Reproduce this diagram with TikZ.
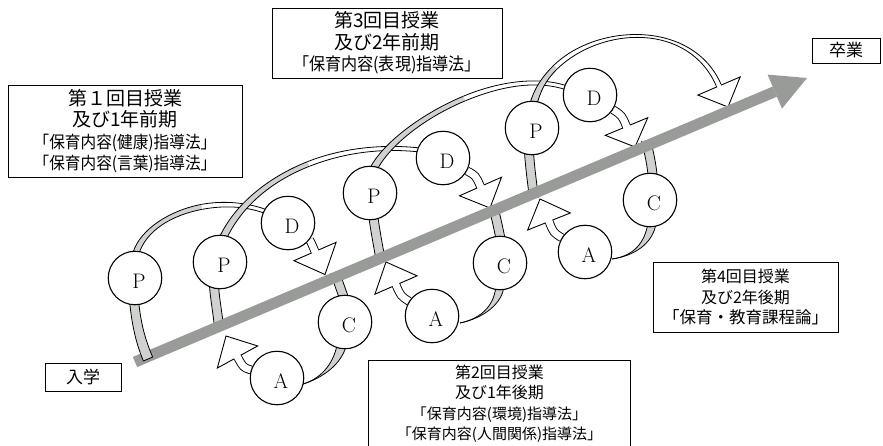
\documentclass[tikz,border=0pt]{standalone}
\usepackage{fontspec}
\newfontfamily\jp{Noto Sans CJK JP}
\newfontfamily\jpc[FakeStretch=0.92]{Noto Sans CJK JP}
\usetikzlibrary{calc}
\definecolor{bandgray}{RGB}{208,210,208}
\definecolor{axisgray}{RGB}{153,155,153}
\pgfdeclarelayer{ribs}\pgfdeclarelayer{axl}\pgfdeclarelayer{front}
\pgfsetlayers{ribs,axl,front,main}
% ribbon along a cubic Bezier: p0 c1 c2 p3, half-width at start/end, fill
\newcommand\rib[7]{%
 \path (#1) coordinate (rp0) (#2) coordinate (rc1) (#3) coordinate (rc2) (#4) coordinate (rp3);
 \path ($(rp0)!#5!90:(rc1)$) coordinate (rl0) ($(rp0)!#5!-90:(rc1)$) coordinate (rr0)
       ($(rp3)!#6!-90:(rc2)$) coordinate (rl3) ($(rp3)!#6!90:(rc2)$) coordinate (rr3);
 \path ($(rc1)+(rl0)-(rp0)$) coordinate (rlc1) ($(rc2)+(rl3)-(rp3)$) coordinate (rlc2)
       ($(rc1)+(rr0)-(rp0)$) coordinate (rrc1) ($(rc2)+(rr3)-(rp3)$) coordinate (rrc2);
 \fill[#7] (rl0) .. controls (rlc1) and (rlc2) .. (rl3) -- (rr3) .. controls (rrc2) and (rrc1) .. (rr0) -- cycle;
 \draw[ribline] (rl0) .. controls (rlc1) and (rlc2) .. (rl3);
 \draw[ribline] (rr0) .. controls (rrc1) and (rrc2) .. (rr3);
}
% ribbon split at t: first part coloured, rest white
\newcommand\ribsplit[9]{%
 \path (#1) coordinate (sp0) (#2) coordinate (sc1) (#3) coordinate (sc2) (#4) coordinate (sp3);
 \path ($(sp0)!#8!(sc1)$) coordinate (sa) ($(sc1)!#8!(sc2)$) coordinate (sb) ($(sc2)!#8!(sp3)$) coordinate (sf);
 \path ($(sa)!#8!(sb)$) coordinate (sd) ($(sb)!#8!(sf)$) coordinate (se);
 \path ($(sd)!#8!(se)$) coordinate (sm);
 \rib{sp0}{sa}{sd}{sm}{#5}{#6}{#9}
 \rib{sm}{se}{sf}{sp3}{#6}{#7}{white}
}
% block arrow head only
\newcommand\bhead[3]{% base, tip, inner width of the shaft opening
 \path (#1) coordinate (wb) (#2) coordinate (wt);
 \filldraw[whead] ($(wb)!23pt!90:(wt)$) -- (wt) -- ($(wb)!23pt!-90:(wt)$) -- cycle;
 \draw[white, line width=#3] ($(wb)!1.5pt!180:(wt)$) -- ($(wb)!2pt!(wt)$);
}
% white block arrow from a node: start node, base, tip, back distance
\newcommand\warrow[4]{%
 \path (#2) coordinate (wb) (#3) coordinate (wt);
 \path ($(wb)!#4!180:(wt)$) coordinate (wc);
 \draw[wshaft] (#1) .. controls (wc) .. (wb);
 \bhead{#2}{#3}{7pt}
}
\tikzset{
 circ/.style={circle, draw, line width=1.1pt, fill=white, minimum size=53.5pt, inner sep=0pt,
   label={[xshift=4pt, yshift=-3pt, font=\fontsize{21}{24}\selectfont, inner sep=0pt]center:#1}},
 box/.style={draw, line width=1pt, fill=white, align=center, inner sep=0pt},
 bigtxt/.style={font=\jp\fontsize{19}{21.5}\selectfont},
 midtxt/.style={font=\jp\fontsize{16}{20.5}\selectfont},
 ribline/.style={line width=0.8pt, line join=round},
 wshaft/.style={line width=0.9pt, double=white, double distance=7pt},
 whead/.style={fill=white, draw=black, line width=0.9pt, line join=miter},
}
\begin{document}
\begin{tikzpicture}[x=1pt,y=-1pt]
\useasboundingbox (0,0) rectangle (883,445);
% PDCA circles
\node[circ=P] (P1) at (135,278) {};
\node[circ=P] (P2) at (220,262) {};
\node[circ=D] (D1) at (288,223) {};
\node[circ=C] (C1) at (345,322) {};
\node[circ=A] (A1) at (277,378) {};
\node[circ=P] (P3) at (370,193) {};
\node[circ=D] (D2) at (443,158) {};
\node[circ=C] (C2) at (500,263) {};
\node[circ=A] (A2) at (432,316) {};
\node[circ=P] (P4) at (532,128) {};
\node[circ=D] (D3) at (590,95) {};
\node[circ=C] (C3) at (650,200) {};
\node[circ=A] (A3) at (585,252) {};

\begin{pgfonlayer}{ribs}
 % arcs from P over the top to D
 \ribsplit{136,253}{148,215}{215,192}{267,212}{3pt}{2.5pt}{2pt}{0.6}{bandgray}
 \ribsplit{223,238}{250,180}{330,140}{420,150}{3.5pt}{2.5pt}{2pt}{0.55}{bandgray}
 \ribsplit{373,170}{395,125}{500,65}{567,88}{3.5pt}{2.5pt}{2pt}{0.55}{bandgray}
 \ribsplit{533,106}{550,30}{685,5}{719,86}{3.5pt}{2.5pt}{2.5pt}{0.2}{bandgray}
 \bhead{719,86}{728,107}{4pt}
 % bands crossing the axis
 \rib{335,272}{338,282}{342,292}{346,304}{4.5pt}{4.5pt}{bandgray}
 \rib{219,328}{218,315}{215,300}{214,286}{4.5pt}{4.5pt}{bandgray}
 \rib{493,205}{496,218}{499,230}{501,242}{4.5pt}{4.5pt}{bandgray}
 \rib{381,262}{378,245}{375,230}{373,214}{4.5pt}{4.5pt}{bandgray}
 \rib{646,140}{649,153}{652,165}{653,180}{4.5pt}{4.5pt}{bandgray}
 \rib{534,198}{532,182}{530,168}{529,152}{4.5pt}{4.5pt}{bandgray}
 % tapering ribbons from C to A
 \rib{342,343}{339,362}{323,378}{303,384}{4.5pt}{0pt}{bandgray}
 \rib{500,285}{499,303}{484,318}{460,323}{4pt}{0pt}{bandgray}
 \rib{652,223}{649,243}{634,256}{612,259}{4pt}{0pt}{bandgray}
 % white block arrows
 \warrow{D1}{315,251.5}{325,274.5}{12pt}
 \warrow{D2}{480.5,186.5}{490,208}{12pt}
 \warrow{D3}{626.5,126.5}{635,147}{12pt}
 \warrow{A1}{237.5,357}{226,336}{12pt}
 \warrow{A2}{396,285}{386,262}{12pt}
 \warrow{A3}{549,221.5}{540,199}{12pt}
\end{pgfonlayer}

\begin{pgfonlayer}{axl}
 \coordinate (axS) at (135,362);
 \coordinate (axT) at (807,78);
 \path ($(axT)!35pt!(axS)$) coordinate (axB);
 \draw[axisgray, line width=11pt] (axS) -- (axB);
 \fill[axisgray] ($(axB)!18.5pt!90:(axT)$) -- (axT) -- ($(axB)!18.5pt!-90:(axT)$) -- cycle;
\end{pgfonlayer}

\begin{pgfonlayer}{front}
 \rib{148,359}{140,340}{136,322}{134,300}{5pt}{4.5pt}{bandgray}
 \draw[ribline] (rl0) -- (rr0);
\end{pgfonlayer}

% text boxes
\node[box, bigtxt, minimum width=234pt, minimum height=92pt] (k1) at (125,131)
 {第１回目授業\\及び1年前期\\{\jpc\fontsize{17}{21.5}\selectfont 「保育内容(健康)指導法」}\\{\jpc\fontsize{17}{21.5}\selectfont 「保育内容(言葉)指導法」}};
\node[box, bigtxt, minimum width=230pt, minimum height=70pt] (k3) at (387,43)
 {第3回目授業\\及び2年前期\\{\jpc\fontsize{17.5}{21.5}\selectfont 「保育内容(表現)指導法」}};
\node[box, midtxt, minimum width=262pt, minimum height=86pt, anchor=north west] (k2) at (368,360)
 {第2回目授業\\及び1年後期\\{\jp\fontsize{15}{20.5}\selectfont 「保育内容(環境)指導法」}\\{\jp\fontsize{15}{20.5}\selectfont 「保育内容(人間関係)指導法」}};
\node[box, midtxt, minimum width=185pt, minimum height=70pt] (k4) at (745.5,297)
 {第4回目授業\\及び2年後期\\{\jp\fontsize{16.5}{21.5}\selectfont 「保育・教育課程論」}};
\node[box, font=\jp\fontsize{17}{19}\selectfont, minimum width=68pt, minimum height=25pt] (end) at (846,50.5) {卒業};
\node[box, font=\jp\fontsize{17}{19}\selectfont, minimum width=76pt, minimum height=28pt] (start) at (83,377) {入学};
\end{tikzpicture}
\end{document}
